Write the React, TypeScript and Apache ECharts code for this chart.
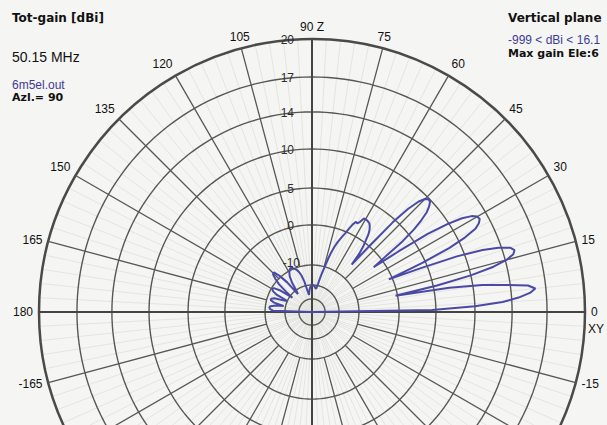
import React, { useEffect, useRef } from "react";
import * as echarts from "echarts";

// Elevation angle (deg) and total gain (dBi)
const ELEVATION = [
  0, 1, 2, 3, 4, 5, 6, 7, 8, 9, 10, 11, 12, 13, 14, 15, 16, 17, 18, 19, 20,
  21, 22, 23, 24, 25, 26, 27, 28, 29, 30, 31, 32, 33, 34, 35, 36, 37, 38, 39, 40,
  41, 42, 43, 44, 45, 46, 47, 48, 49, 50, 51, 52, 53, 54, 55, 56, 57, 58, 59, 60,
  61, 62, 63, 64, 65, 66, 67, 68, 69, 70, 71, 72, 73, 74, 75, 76, 77, 78, 79, 80,
  82, 84, 86, 88, 90, 92, 94, 96, 98, 100, 102, 104, 106, 108, 110, 112, 114, 116,
  118, 120, 122, 124, 126, 128, 130, 132, 134, 136, 138, 140, 142, 144, 146, 148,
  150, 152, 154, 156, 158, 160, 162, 164, 166, 168, 170, 172, 174, 176, 178, 180,
];
const GAIN_DBI = [
  -999, 4.5, 10.0, 13.0, 14.6, 15.6, 16.1, 15.5, 13.4, 11.0, 7.0, -0.5, 5.5, 10.0, 12.6, 14.1, 14.8, 15.0, 14.7, 13.7, 12.0,
  9.0, 4.0, -0.9, 4.5, 8.5, 10.8, 12.2, 12.8, 13.1, 13.0, 12.5, 11.5, 9.8, 7.0, 2.5, -2.7, 0.5, 3.8, 5.9, 7.4,
  8.6, 9.3, 9.8, 9.9, 9.6, 8.8, 7.2, 4.6, 0.0, -6.3, -3.0, -1.0, 0.3, 1.2, 1.8, 2.2, 2.5, 2.6, 2.7, 2.7,
  2.7, 2.0, 1.7, 1.8, 1.3, 0.6, -0.3, -1.3, -2.3, -3.3, -4.5, -6.0, -7.5, -9.5, -12.0, -14.5, -17.0, -19.5, -21.5, -22.5,
  -22.0, -21.0, -20.5, -20.0, -20.0, -20.5, -21.5, -23.0, -25.0, -27.0, -24.0, -18.0, -14.5, -12.5, -11.0, -10.2, -9.7, -9.5,
  -9.8, -10.8, -12.5, -15.5, -20.0, -23.0, -14.0, -9.5, -8.0, -8.2, -9.5, -12.0, -17.0, -22.0, -14.0, -11.0,
  -10.5, -11.5, -14.0, -20.0, -18.0, -13.5, -12.0, -12.0, -14.0, -19.0, -15.0, -12.5, -12.0, -12.5, -14.0, -999,
];

// Grid rings (dBi) and their labels
const RING_DBI = [20, 17, 14, 10, 5, 0, -10, -20, -30];
const RING_LABELS = ["20", "17", "14", "10", "5", "0", "-10"];
const SPOKE_ANGLES = [15, 30, 45, 60, 75, 105, 120, 135, 150, 165, 195, 210, 225, 240, 255, 285, 300, 315, 330, 345];
const AXIS_ANGLES = [0, 90, 180, 270];
// angle labels that fall inside the visible page
const SHOWN_ANGLE_LABELS = [0, 15, 30, 45, 60, 75, 90, 105, 120, 135, 150, 165, 180, 195, 345];

// log-periodic radial scale (dBi -> fraction of outer radius)
const SCALE_DB = [-40, -30, -20, -10, 0, 5, 10, 14, 17, 20];
const SCALE_FR = [0, 0.048, 0.099, 0.172, 0.319, 0.454, 0.597, 0.733, 0.861, 1];

function radial(db: number): number {
  if (db <= SCALE_DB[0]) return 0;
  if (db >= SCALE_DB[SCALE_DB.length - 1]) return 1;
  for (let i = 1; i < SCALE_DB.length; i++) {
    if (db <= SCALE_DB[i]) {
      const t = (db - SCALE_DB[i - 1]) / (SCALE_DB[i] - SCALE_DB[i - 1]);
      return SCALE_FR[i - 1] + t * (SCALE_FR[i] - SCALE_FR[i - 1]);
    }
  }
  return 1;
}

const GRID = "#575753";
const BLUE = "#4a4aa6";
const FONT = "Liberation Sans";

export default function App() {
  const ref = useRef<HTMLDivElement>(null);
  useEffect(() => {
    if (!ref.current) return;
    const chart = echarts.init(ref.current, undefined, { renderer: "svg" });

    const circleAngles: number[] = [];
    for (let a = 0; a <= 360; a += 2) circleAngles.push(a);

    const ringSeries = RING_DBI.map((db, i) => ({
      type: "line",
      coordinateSystem: "polar",
      symbol: "none",
      silent: true,
      z: 2,
      lineStyle: { color: GRID, width: i === 0 ? 0 : 1.4 },
      data: circleAngles.map((a) => [radial(db), a]),
    }));

    const spokeSeries = SPOKE_ANGLES.map((a) => ({
      type: "line",
      coordinateSystem: "polar",
      symbol: "none",
      silent: true,
      z: 2,
      lineStyle: { color: GRID, width: 1.3 },
      data: [
        [radial(-10), a],
        [1, a],
      ],
    }));

    const axisSeries = AXIS_ANGLES.map((a) => ({
      type: "line",
      coordinateSystem: "polar",
      symbol: "none",
      silent: true,
      z: 3,
      lineStyle: { color: "#444442", width: 2 },
      data: [
        [0, a],
        [1, a],
      ],
    }));

    const labelSeries = {
      type: "scatter",
      coordinateSystem: "polar",
      symbolSize: 0,
      silent: true,
      z: 4,
      itemStyle: { opacity: 1 },
      data: RING_LABELS.map((t, i) => ({
        value: [radial(RING_DBI[i]), 90],
        label: {
          show: true,
          formatter: t,
          position: "left",
          distance: t === "-10" ? 12 : 18,
          offset: t === "-10" ? [0, -2] : [0, 1],
          color: "#2e2e2e",
          opacity: 1,
          textBorderWidth: 0,
          fontSize: 12,
          fontFamily: FONT,
        },
      })),
    };

    const patternSeries = {
      type: "line",
      coordinateSystem: "polar",
      symbol: "none",
      z: 6,
      lineStyle: { color: BLUE, width: 2 },
      data: ELEVATION.map((a, i) => [radial(GAIN_DBI[i]), a]),
    };

    chart.setOption({
      animation: false,
      backgroundColor: "#f5f5f3",
      polar: { center: [312, 312], radius: 273 },
      angleAxis: {
        type: "value",
        min: 0,
        max: 360,
        interval: 15,
        startAngle: 0,
        clockwise: false,
        axisLine: { show: true, lineStyle: { color: "#4a4a48", width: 2.5 } },
        axisTick: { show: false },
        splitLine: { show: false },
        minorTick: { show: false, splitNumber: 5 },
        minorSplitLine: { show: true, lineStyle: { color: "#e4e4e0", width: 1 } },
        axisLabel: {
          show: true,
          margin: 6,
          color: "#111",
          fontSize: 12,
          fontFamily: FONT,
          formatter: (v: number) => {
            if (SHOWN_ANGLE_LABELS.indexOf(v) < 0) return "";
            if (v === 90) return "90 Z";
            return v > 180 ? String(v - 360) : String(v);
          },
        },
      },
      radiusAxis: {
        type: "value",
        min: 0,
        max: 1,
        show: false,
        axisLine: { show: false },
        axisLabel: { show: false },
        axisTick: { show: false },
        splitLine: { show: false },
      },
      graphic: [
        { type: "text", left: 12, top: 12, style: { text: "Tot-gain [dBi]", font: "bold 12px 'DejaVu Sans'", fill: "#111" } },
        { type: "text", left: 12, top: 50, style: { text: "50.15 MHz", font: "14px 'Liberation Sans'", fill: "#111" } },
        { type: "text", left: 12, top: 79, style: { text: "6m5el.out", font: "12px 'Liberation Sans'", fill: "#3c3c96" } },
        { type: "text", left: 12, top: 92, style: { text: "Azl.= 90", font: "bold 11px 'DejaVu Sans'", fill: "#111" } },
        { type: "text", left: 508, top: 12, style: { text: "Vertical plane", font: "bold 12px 'DejaVu Sans'", fill: "#111" } },
        { type: "text", left: 508, top: 34, style: { text: "-999 < dBi < 16.1", font: "12px 'Liberation Sans'", fill: "#3c3c96" } },
        { type: "text", left: 508, top: 48, style: { text: "Max gain Ele:6", font: "bold 11px 'DejaVu Sans'", fill: "#111" } },
        { type: "text", left: 588, top: 323, style: { text: "XY", font: "12px 'Liberation Sans'", fill: "#111" } },
      ],
      series: [...ringSeries, ...spokeSeries, ...axisSeries, labelSeries, patternSeries],
    });
    return () => chart.dispose();
  }, []);
  return <div ref={ref} style={{ position: "fixed", left: 0, top: 0, width: 607, height: 425 }} />;
}
